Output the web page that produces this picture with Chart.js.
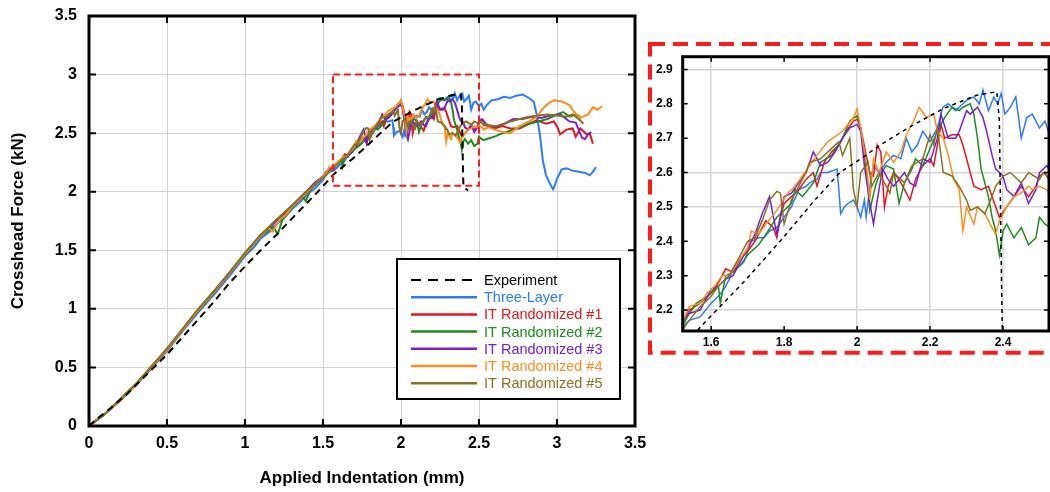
<!DOCTYPE html>
<html>
<head>
<meta charset="utf-8">
<script src="https://cdn.jsdelivr.net/npm/chart.js@4.4.0/dist/chart.umd.min.js"></script>
<style>
  body { margin:0; background:#fff; width:1050px; height:492px; position:relative; overflow:hidden; }
  #mainWrap { position:absolute; left:0; top:0; width:660px; height:492px; }
  #insetWrap { position:absolute; left:648px; top:42px; width:402px; height:313px; }
</style>
</head>
<body>
<div id="mainWrap"><canvas id="mainChart"></canvas></div>
<div id="insetWrap"><canvas id="insetChart"></canvas></div>
<script>
// ====== Data (x = indentation mm, y = force kN) ======
const experiment = [[0,0],[0.05,0.06],[0.135,0.15],[0.25,0.28],[0.37,0.44],[0.5,0.61],[0.6,0.76],[0.7,0.91],[0.8,1.06],[0.9,1.22],[0.97,1.32],[1.1,1.5],[1.2,1.63],[1.3,1.77],[1.46,1.99],[1.57,2.15],[1.606,2.19],[1.688,2.28],[1.789,2.4],[1.88,2.515],[1.953,2.6],[2.017,2.645],[2.063,2.68],[2.145,2.733],[2.236,2.786],[2.328,2.825],[2.383,2.835],[2.39,2.75],[2.393,2.5],[2.397,2.2],[2.4,2.05],[2.41,2.03],[2.43,2.01]];

const threeLayer = [[0,0],[0.1,0.1],[0.2,0.22],[0.3,0.35],[0.4,0.49],[0.5,0.64],[0.6,0.81],[0.7,0.97],[0.8,1.12],[0.9,1.28],[1.0,1.45],[1.06,1.53],[1.1,1.6],[1.16,1.66],[1.2,1.72],[1.26,1.79],[1.3,1.85],[1.36,1.92],[1.4,1.98],[1.45,2.03],[1.5,2.1],
  [1.52,2.15],[1.54,2.17],[1.57,2.18],[1.6,2.22],[1.62,2.24],[1.635,2.26],[1.65,2.29],[1.66,2.32],[1.68,2.33],[1.69,2.34],[1.71,2.4],[1.73,2.41],[1.745,2.41],[1.76,2.43],[1.78,2.44],[1.8,2.47],[1.82,2.5],[1.84,2.55],[1.86,2.56],[1.87,2.57],[1.89,2.58],[1.9,2.6],[1.92,2.6],[1.945,2.61],[1.95,2.55],[1.955,2.48],[1.965,2.5],[1.975,2.51],[1.99,2.52],[2.0,2.5],[2.01,2.47],[2.02,2.52],[2.025,2.47],[2.035,2.56],[2.045,2.62],[2.06,2.6],[2.08,2.63],[2.1,2.65],[2.12,2.64],[2.135,2.7],[2.15,2.66],[2.165,2.68],[2.18,2.72],[2.2,2.69],[2.22,2.73],[2.235,2.79],[2.25,2.8],[2.27,2.78],[2.29,2.8],[2.3,2.81],[2.32,2.82],[2.335,2.8],[2.345,2.84],[2.36,2.78],[2.375,2.82],[2.385,2.8],[2.395,2.83],[2.405,2.77],[2.42,2.79],[2.435,2.82],[2.45,2.7],[2.465,2.76],[2.48,2.77],[2.5,2.73],[2.515,2.75],[2.53,2.7],
  [2.55,2.74],[2.58,2.78],[2.62,2.79],[2.66,2.81],[2.7,2.8],[2.74,2.82],[2.78,2.83],[2.82,2.8],[2.85,2.77],[2.87,2.66],[2.89,2.49],[2.91,2.26],[2.93,2.14],[2.95,2.08],[2.975,2.02],[2.99,2.07],[3.0,2.11],[3.03,2.19],[3.06,2.2],[3.1,2.18],[3.14,2.17],[3.18,2.16],[3.21,2.14],[3.23,2.17],[3.25,2.21]];

const itRand1 = [[0,0],[0.1,0.1],[0.2,0.22],[0.3,0.35],[0.4,0.5],[0.5,0.65],[0.6,0.82],[0.7,0.99],[0.8,1.14],[0.9,1.3],[1.0,1.47],[1.05,1.55],[1.1,1.62],[1.15,1.68],[1.2,1.75],[1.25,1.8],[1.3,1.87],[1.35,1.93],[1.4,2.0],[1.45,2.06],[1.5,2.13],
  [1.52,2.16],[1.54,2.2],[1.57,2.22],[1.6,2.25],[1.62,2.28],[1.64,2.32],[1.66,2.31],[1.68,2.35],[1.7,2.37],[1.72,2.4],[1.74,2.44],[1.75,2.46],[1.77,2.44],[1.78,2.41],[1.79,2.47],[1.8,2.51],[1.82,2.53],[1.84,2.55],[1.86,2.58],[1.88,2.6],[1.89,2.56],[1.91,2.63],[1.93,2.66],[1.95,2.68],[1.97,2.72],[1.99,2.75],[2.0,2.755],[2.01,2.73],[2.025,2.65],[2.035,2.6],[2.045,2.59],[2.055,2.68],[2.065,2.66],[2.075,2.5],[2.085,2.56],[2.1,2.6],[2.115,2.58],[2.13,2.55],[2.145,2.52],[2.16,2.58],[2.18,2.62],[2.2,2.64],[2.21,2.62],[2.23,2.74],[2.24,2.7],[2.26,2.71],[2.28,2.71],[2.29,2.68],[2.31,2.6],[2.32,2.56],[2.34,2.55],[2.36,2.56],[2.38,2.5],[2.39,2.47],[2.41,2.5],[2.43,2.53],[2.45,2.56],[2.47,2.53],[2.49,2.56],[2.5,2.59],[2.515,2.6],[2.53,2.57],
  [2.56,2.56],[2.6,2.54],[2.65,2.56],[2.7,2.54],[2.76,2.54],[2.82,2.58],[2.87,2.61],[2.93,2.58],[2.98,2.6],[3.0,2.56],[3.02,2.49],[3.06,2.53],[3.1,2.54],[3.12,2.47],[3.15,2.54],[3.19,2.49],[3.21,2.5],[3.23,2.41]];

const itRand2 = [[0,0],[0.1,0.1],[0.2,0.22],[0.3,0.35],[0.4,0.5],[0.5,0.65],[0.6,0.82],[0.7,0.98],[0.8,1.14],[0.9,1.3],[1.0,1.46],[1.1,1.62],[1.18,1.7],[1.21,1.64],[1.24,1.76],[1.3,1.86],[1.37,1.96],[1.39,1.92],[1.42,2.02],[1.5,2.12],
  [1.52,2.15],[1.54,2.19],[1.56,2.22],[1.59,2.24],[1.61,2.26],[1.62,2.27],[1.625,2.22],[1.64,2.3],[1.66,2.31],[1.68,2.33],[1.7,2.36],[1.73,2.39],[1.75,2.42],[1.78,2.47],[1.8,2.49],[1.82,2.51],[1.83,2.55],[1.85,2.53],[1.88,2.57],[1.9,2.63],[1.93,2.65],[1.96,2.7],[1.98,2.75],[2.0,2.765],[2.01,2.73],[2.025,2.61],[2.035,2.49],[2.05,2.56],[2.06,2.59],[2.08,2.62],[2.1,2.61],[2.115,2.51],[2.13,2.57],[2.15,2.61],[2.16,2.64],[2.18,2.62],[2.2,2.67],[2.22,2.72],[2.24,2.76],[2.26,2.79],[2.28,2.78],[2.29,2.79],[2.31,2.8],[2.32,2.77],[2.33,2.7],[2.34,2.61],[2.36,2.53],[2.37,2.47],[2.38,2.43],[2.39,2.36],[2.4,2.43],[2.41,2.45],[2.43,2.41],[2.45,2.44],[2.47,2.39],[2.49,2.41],[2.5,2.47],[2.515,2.45],[2.53,2.44],
  [2.55,2.45],[2.6,2.47],[2.65,2.5],[2.7,2.52],[2.76,2.55],[2.82,2.58],[2.88,2.6],[2.94,2.62],[3.0,2.66],[3.04,2.68],[3.08,2.64],[3.12,2.66],[3.15,2.64]];

const itRand3 = [[0,0],[0.1,0.1],[0.2,0.22],[0.3,0.35],[0.4,0.5],[0.5,0.66],[0.6,0.82],[0.7,0.99],[0.8,1.15],[0.9,1.31],[1.0,1.47],[1.1,1.63],[1.2,1.75],[1.3,1.88],[1.4,2.01],[1.45,2.08],[1.5,2.13],
  [1.52,2.17],[1.54,2.19],[1.57,2.2],[1.6,2.26],[1.62,2.27],[1.64,2.29],[1.66,2.3],[1.68,2.34],[1.7,2.38],[1.72,2.42],[1.74,2.48],[1.76,2.53],[1.78,2.42],[1.8,2.53],[1.82,2.54],[1.84,2.57],[1.86,2.6],[1.88,2.66],[1.9,2.62],[1.92,2.63],[1.94,2.66],[1.96,2.7],[1.98,2.73],[2.0,2.74],[2.01,2.72],[2.02,2.62],[2.035,2.51],[2.045,2.45],[2.06,2.55],[2.07,2.61],[2.085,2.58],[2.1,2.56],[2.115,2.58],[2.13,2.6],[2.145,2.57],[2.16,2.56],[2.18,2.64],[2.2,2.63],[2.22,2.7],[2.23,2.77],[2.25,2.7],[2.27,2.7],[2.28,2.72],[2.3,2.78],[2.31,2.77],[2.33,2.79],[2.345,2.76],[2.355,2.72],[2.37,2.65],[2.38,2.61],[2.4,2.59],[2.41,2.55],[2.43,2.53],[2.45,2.57],[2.47,2.51],[2.49,2.55],[2.5,2.6],[2.52,2.62],
  [2.55,2.57],[2.6,2.55],[2.66,2.58],[2.72,2.62],[2.78,2.62],[2.84,2.64],[2.9,2.63],[2.96,2.65],[3.02,2.66],[3.08,2.6],[3.12,2.59],[3.16,2.46],[3.18,2.45],[3.2,2.49],[3.22,2.51]];

const itRand4 = [[0,0],[0.1,0.1],[0.2,0.22],[0.3,0.35],[0.4,0.5],[0.5,0.65],[0.6,0.82],[0.7,0.99],[0.8,1.14],[0.9,1.3],[1.0,1.47],[1.1,1.62],[1.15,1.69],[1.18,1.66],[1.22,1.76],[1.26,1.8],[1.3,1.87],[1.4,2.0],[1.5,2.13],
  [1.52,2.16],[1.54,2.21],[1.57,2.22],[1.59,2.25],[1.61,2.27],[1.63,2.3],[1.65,2.3],[1.68,2.35],[1.7,2.38],[1.71,2.43],[1.73,2.42],[1.75,2.45],[1.78,2.49],[1.81,2.54],[1.83,2.56],[1.85,2.59],[1.87,2.62],[1.89,2.65],[1.92,2.69],[1.96,2.72],[1.99,2.76],[2.0,2.785],[2.01,2.73],[2.025,2.63],[2.035,2.52],[2.045,2.64],[2.06,2.6],[2.08,2.66],[2.1,2.63],[2.12,2.66],[2.135,2.71],[2.155,2.75],[2.17,2.79],[2.19,2.76],[2.21,2.77],[2.22,2.72],[2.236,2.7],[2.25,2.65],[2.265,2.58],[2.28,2.55],[2.29,2.43],[2.3,2.5],[2.32,2.45],[2.33,2.5],[2.35,2.48],[2.37,2.44],[2.38,2.42],[2.39,2.46],[2.41,2.5],[2.43,2.53],[2.45,2.54],[2.47,2.56],[2.48,2.55],[2.5,2.56],[2.52,2.55],[2.53,2.53],
  [2.56,2.55],[2.6,2.53],[2.65,2.51],[2.7,2.5],[2.76,2.56],[2.82,2.6],[2.87,2.64],[2.91,2.71],[2.95,2.76],[2.98,2.78],[3.03,2.77],[3.08,2.74],[3.11,2.68],[3.15,2.63],[3.2,2.66],[3.23,2.72],[3.26,2.7],[3.29,2.73]];

const itRand5 = [[0,0],[0.1,0.1],[0.2,0.23],[0.3,0.36],[0.4,0.51],[0.5,0.66],[0.6,0.83],[0.7,1.0],[0.8,1.15],[0.9,1.31],[1.0,1.48],[1.1,1.63],[1.2,1.76],[1.3,1.88],[1.4,2.01],[1.5,2.12],
  [1.52,2.14],[1.54,2.17],[1.57,2.21],[1.6,2.24],[1.62,2.27],[1.65,2.3],[1.68,2.36],[1.7,2.4],[1.72,2.41],[1.74,2.46],[1.76,2.52],[1.78,2.545],[1.79,2.54],[1.8,2.45],[1.82,2.52],[1.84,2.56],[1.86,2.6],[1.87,2.63],[1.9,2.64],[1.92,2.66],[1.95,2.69],[1.96,2.65],[1.98,2.7],[1.99,2.55],[2.0,2.5],[2.01,2.6],[2.03,2.63],[2.04,2.56],[2.06,2.6],[2.09,2.54],[2.1,2.6],[2.13,2.57],[2.15,2.62],[2.18,2.64],[2.2,2.71],[2.21,2.68],[2.22,2.73],[2.236,2.6],[2.26,2.59],[2.28,2.56],[2.3,2.52],[2.31,2.49],[2.33,2.5],[2.35,2.48],[2.37,2.53],[2.38,2.56],[2.4,2.59],[2.42,2.6],[2.45,2.57],[2.47,2.6],[2.5,2.58],[2.51,2.6],[2.53,2.58],
  [2.56,2.57],[2.6,2.56],[2.65,2.57],[2.7,2.6],[2.76,2.62],[2.82,2.64],[2.88,2.65],[2.94,2.66],[3.0,2.65],[3.06,2.64],[3.1,2.66],[3.14,2.62],[3.17,2.58]];

const seriesNames = ["Experiment", "Three-Layer", "IT Randomized #1", "IT Randomized #2", "IT Randomized #3", "IT Randomized #4", "IT Randomized #5"];
const seriesData = [experiment, threeLayer, itRand1, itRand2, itRand3, itRand4, itRand5];
const seriesColors = ["#000000", "#2b7bff", "#e8141c", "#1c8c1c", "#7420d8", "#ff8c1f", "#877220"];

const mainXTicks = [0, 0.5, 1, 1.5, 2, 2.5, 3, 3.5];
const mainYTicks = [0, 0.5, 1, 1.5, 2, 2.5, 3, 3.5];
const insetXTicks = [1.6, 1.8, 2, 2.2, 2.4];
const insetYTicks = [2.2, 2.3, 2.4, 2.5, 2.6, 2.7, 2.8, 2.9];
const insetXGrid = [1.6, 2, 2.2, 2.4];
const insetYGrid = [2.2, 2.5, 2.6, 2.9];
const zoomBox = { xMin: 1.564, xMax: 2.5, yMin: 2.05, yMax: 3.0 };

Chart.defaults.font.family = "'Liberation Sans', Arial, sans-serif";
Chart.defaults.color = "#000";

// ====== Plugins ======
const framePlugin = {
  id: "frame",
  afterDatasetsDraw(chart, args, opts) {
    const { ctx, chartArea: a, scales } = chart;
    ctx.save();
    ctx.strokeStyle = "#000";
    ctx.lineWidth = opts.tickWidth;
    const L = opts.tickLen;
    ctx.beginPath();
    scales.x.ticks.forEach(t => {
      const px = scales.x.getPixelForValue(t.value);
      ctx.moveTo(px, a.top); ctx.lineTo(px, a.top + L);
      ctx.moveTo(px, a.bottom); ctx.lineTo(px, a.bottom - L);
    });
    scales.y.ticks.forEach(t => {
      const py = scales.y.getPixelForValue(t.value);
      ctx.moveTo(a.left, py); ctx.lineTo(a.left + L, py);
      ctx.moveTo(a.right, py); ctx.lineTo(a.right - L, py);
    });
    ctx.stroke();
    ctx.lineWidth = opts.border;
    ctx.strokeRect(a.left, a.top, a.right - a.left, a.bottom - a.top);
    ctx.restore();
  }
};

const zoomBoxPlugin = {
  id: "zoomBox",
  afterDatasetsDraw(chart) {
    const { ctx, scales: { x, y } } = chart;
    const x0 = x.getPixelForValue(zoomBox.xMin), x1 = x.getPixelForValue(zoomBox.xMax);
    const y0 = y.getPixelForValue(zoomBox.yMax), y1 = y.getPixelForValue(zoomBox.yMin);
    ctx.save();
    ctx.strokeStyle = "#ff1a1a";
    ctx.lineWidth = 2;
    ctx.setLineDash([7, 4]);
    ctx.strokeRect(x0, y0, x1 - x0, y1 - y0);
    ctx.restore();
  }
};

const legendPlugin = {
  id: "boxLegend",
  afterDraw(chart) {
    const ctx = chart.ctx;
    const bx = 397, by = 259, bw = 223, bh = 140;
    ctx.save();
    ctx.fillStyle = "#fff";
    ctx.fillRect(bx, by, bw, bh);
    ctx.strokeStyle = "#000";
    ctx.lineWidth = 2;
    ctx.strokeRect(bx, by, bw, bh);
    ctx.font = "14.5px 'Liberation Sans', Arial, sans-serif";
    ctx.textBaseline = "middle";
    seriesNames.forEach((name, i) => {
      const ry = by + 21 + i * 17.2;
      ctx.strokeStyle = seriesColors[i];
      ctx.lineWidth = i === 0 ? 2 : 2.5;
      ctx.setLineDash(i === 0 ? [10, 7] : []);
      ctx.beginPath();
      ctx.moveTo(bx + 14, ry); ctx.lineTo(bx + 80, ry);
      ctx.stroke();
      ctx.fillStyle = seriesColors[i];
      ctx.fillText(name, bx + 87, ry + 1);
    });
    ctx.restore();
  }
};

const insetBorderPlugin = {
  id: "insetBorder",
  afterDraw(chart) {
    const ctx = chart.ctx;
    ctx.save();
    ctx.strokeStyle = "#ff1a1a";
    ctx.lineWidth = 4;
    ctx.setLineDash([15, 8]);
    ctx.strokeRect(2, 2, chart.width + 20, 308.7);
    ctx.restore();
  }
};

function makeDatasets(lw, dash) {
  const orders = [0, 6, 5, 4, 3, 2, 1];
  return seriesData.map((d, i) => ({
    label: seriesNames[i],
    data: d.map(p => [p[0], p[1]]),
    borderColor: seriesColors[i],
    borderWidth: lw,
    borderDash: i === 0 ? dash : [],
    pointRadius: 0,
    tension: 0,
    fill: false,
    order: orders[i]
  }));
}

const boldTicks = size => ({ size: size, weight: "bold" });
// let the layout padding alone decide where the plot sits
const noPadX = s => { s.paddingLeft = 0; s.paddingRight = 0; };
const noPadY = s => { s.paddingTop = 0; s.paddingBottom = 0; };

// ====== Main chart ======
new Chart(document.getElementById("mainChart"), {
  type: "line",
  data: { datasets: makeDatasets(2, [7, 5]) },
  options: {
    responsive: true, maintainAspectRatio: false, animation: false,
    layout: { padding: { top: 16, right: 25, left: 0, bottom: 0 } },
    plugins: {
      legend: { display: false }, tooltip: { enabled: false },
      frame: { tickLen: 7, tickWidth: 2, border: 3 }
    },
    scales: {
      x: {
        type: "linear", min: 0, max: 3.5,
        afterBuildTicks: s => { s.ticks = mainXTicks.map(v => ({ value: v })); },
        afterFit: s => { s.height = 66; noPadX(s); },
        ticks: { font: boldTicks(16), padding: 8, callback: v => String(v) },
        grid: { color: "#d2d2d2", lineWidth: 1, drawTicks: false },
        border: { display: false },
        title: { display: true, text: "Applied Indentation (mm)", font: { size: 17, weight: "bold" }, padding: { top: 0, bottom: 3 } }
      },
      y: {
        type: "linear", min: 0, max: 3.5,
        afterBuildTicks: s => { s.ticks = mainYTicks.map(v => ({ value: v })); },
        afterFit: s => { s.width = 89; noPadY(s); },
        ticks: { font: boldTicks(16), padding: 12, callback: v => String(v) },
        grid: { color: "#d2d2d2", lineWidth: 1, drawTicks: false },
        border: { display: false },
        title: { display: true, text: "Crosshead Force (kN)", font: { size: 17, weight: "bold" }, padding: { top: 8, bottom: 0 } }
      }
    }
  },
  plugins: [framePlugin, zoomBoxPlugin, legendPlugin]
});

// ====== Inset (zoomed) chart ======
new Chart(document.getElementById("insetChart"), {
  type: "line",
  data: { datasets: makeDatasets(1.5, [4, 4]) },
  options: {
    responsive: true, maintainAspectRatio: false, animation: false,
    layout: { padding: { top: 14.7, right: 1, left: 0, bottom: 0 } },
    plugins: {
      legend: { display: false }, tooltip: { enabled: false },
      frame: { tickLen: 5, tickWidth: 1.5, border: 3 }
    },
    scales: {
      x: {
        type: "linear", min: 1.522, max: 2.526,
        afterBuildTicks: s => { s.ticks = insetXTicks.map(v => ({ value: v })); },
        afterFit: s => { s.height = 24; noPadX(s); },
        ticks: { font: boldTicks(12), padding: 4, callback: v => String(v) },
        grid: { color: c => insetXGrid.includes(c.tick && c.tick.value) ? "#d6d6d6" : "rgba(0,0,0,0)", lineWidth: 1.5, drawTicks: false },
        border: { display: false }
      },
      y: {
        type: "linear", min: 2.139, max: 2.937,
        afterBuildTicks: s => { s.ticks = insetYTicks.map(v => ({ value: v })); },
        afterFit: s => { s.width = 34.7; noPadY(s); },
        ticks: { font: boldTicks(12), padding: 10, callback: v => v.toFixed(1) },
        grid: { color: c => insetYGrid.includes(c.tick && c.tick.value) ? "#d6d6d6" : "rgba(0,0,0,0)", lineWidth: 1.5, drawTicks: false },
        border: { display: false }
      }
    }
  },
  plugins: [framePlugin, insetBorderPlugin]
});
</script>
</body>
</html>
